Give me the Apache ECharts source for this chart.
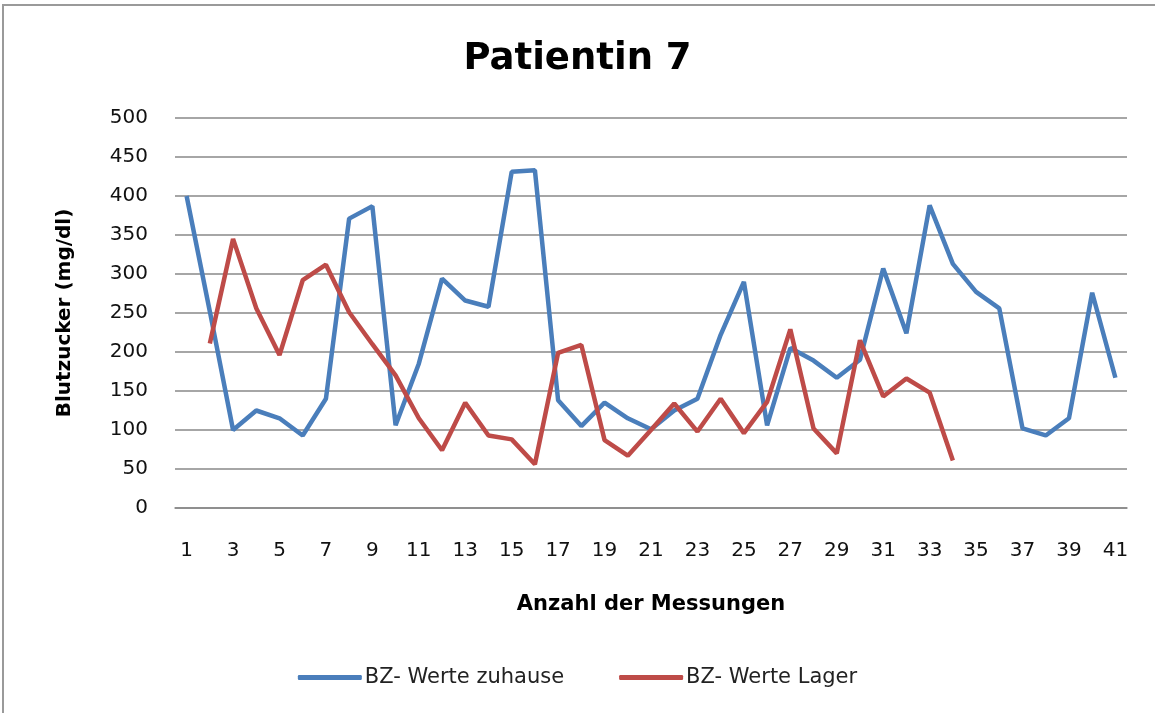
<!DOCTYPE html>
<html>
<head>
<meta charset="utf-8">
<script src="https://cdn.jsdelivr.net/npm/echarts@6/dist/echarts.min.js"></script>
<style>
  html, body { margin: 0; padding: 0; background: #fff; }
  #chart { width: 1155px; height: 713px; }
</style>
</head>
<body>
<div id="chart"></div>
<script>
// Messungen 1..41
const categories = Array.from({ length: 41 }, (_, i) => String(i + 1))

// BZ- Werte zuhause
const zuhause = [400, 252, 100, 125, 115, 93, 140, 371, 387, 106,
  185, 294, 266, 258, 431, 433, 138, 105, 135, 115,
  101, 125, 140, 222, 290, 106, 205, 189, 167, 190,
  307, 224, 388, 313, 277, 256, 102, 93, 115, 276, 167]

// BZ- Werte Lager (nur 34 Messungen, erste fehlt)
const lager = [null, 211, 345, 256, 196, 292, 312, 251, 210, 170,
  115, 74, 135, 93, 88, 56, 199, 209, 87, 67,
  100, 134, 98, 140, 96, 136, 229, 102, 70, 215,
  143, 166, 148, 61]

const seriesNames = ['BZ- Werte zuhause', 'BZ- Werte Lager']
const colors = ['#4a7ebb', '#be4b48']

const font = 'DejaVu Sans'

const chart = echarts.init(document.getElementById('chart'))

const option = {
  animation: false,
  textStyle: { fontFamily: font },
  title: {
    text: 'Patientin 7',
    left: 'center',
    top: 36,
    textStyle: { fontFamily: font, fontSize: 37, fontWeight: 'bold', color: '#000' },
  },
  legend: {
    bottom: 20,
    left: 'center',
    itemWidth: 64,
    itemHeight: 5,
    itemGap: 55,
    icon: 'roundRect',
    textStyle: { fontFamily: font, fontSize: 21, color: '#222', padding: [0, 0, 0, -2] },
    data: seriesNames,
  },
  grid: { left: 175, right: 28, top: 118, bottom: 205 },
  xAxis: {
    type: 'category',
    data: categories,
    boundaryGap: true,
    name: 'Anzahl der Messungen',
    nameLocation: 'middle',
    nameGap: 86,
    nameTextStyle: { fontFamily: font, fontSize: 21, fontWeight: 'bold', color: '#000' },
    axisLine: { lineStyle: { color: '#888', width: 1.5 } },
    axisTick: { show: false },
    axisLabel: { interval: 1, fontSize: 20, color: '#111', margin: 33 },
  },
  yAxis: {
    type: 'value',
    min: 0,
    max: 500,
    interval: 50,
    name: 'Blutzucker (mg/dl)',
    nameLocation: 'middle',
    nameGap: 100,
    nameTextStyle: { fontFamily: font, fontSize: 20, fontWeight: 'bold', color: '#000' },
    axisLine: { show: false },
    axisTick: { show: false },
    axisLabel: { fontSize: 20, color: '#111', margin: 27 },
    splitLine: { lineStyle: { color: '#888', width: 1.5 } },
  },
  series: [
    {
      name: seriesNames[0],
      type: 'line',
      data: zuhause,
      symbol: 'none',
      color: colors[0],
      lineStyle: { width: 4.5, color: colors[0] },
    },
    {
      name: seriesNames[1],
      type: 'line',
      data: lager,
      symbol: 'none',
      color: colors[1],
      lineStyle: { width: 4.5, color: colors[1] },
    },
  ],
  graphic: [
    {
      type: 'rect',
      shape: { x: 3, y: 5, width: 1160, height: 720 },
      style: { fill: 'none', stroke: '#9a9a9a', lineWidth: 2 },
      silent: true,
    },
  ],
}

chart.setOption(option)
</script>
</body>
</html>
